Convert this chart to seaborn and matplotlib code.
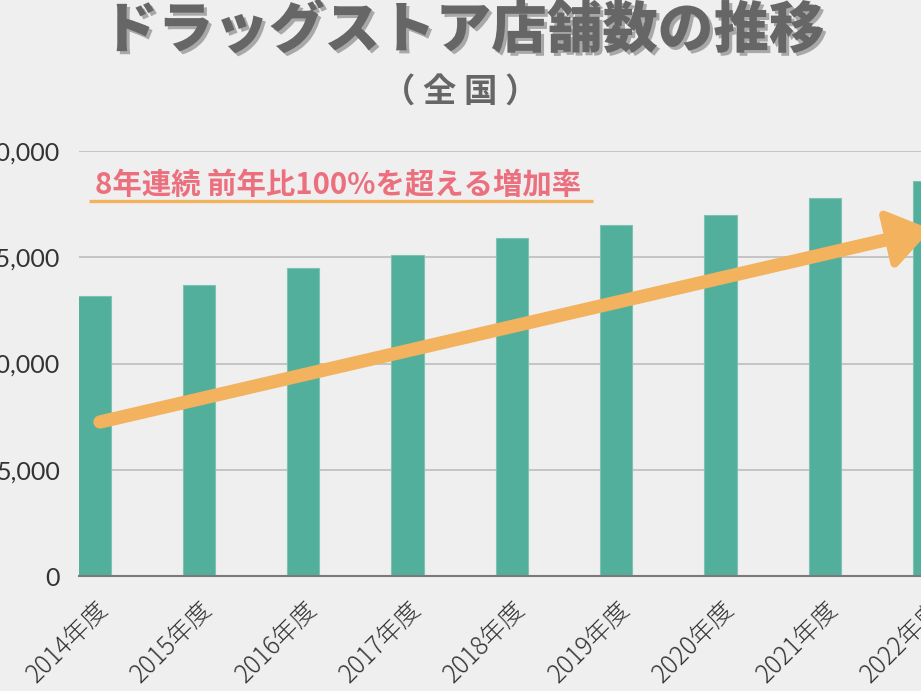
import numpy as np
import pandas as pd
import matplotlib
matplotlib.use("Agg")
import matplotlib.pyplot as plt
import matplotlib.patheffects as pe
from matplotlib.transforms import ScaledTranslation
from matplotlib.lines import Line2D
from matplotlib.patches import Polygon
import seaborn as sns

# ---- data ----
years = ["2014年度", "2015年度", "2016年度", "2017年度", "2018年度",
         "2019年度", "2020年度", "2021年度", "2022年度"]
stores = [13200, 13700, 14500, 15100, 15900, 16500, 17000, 17800, 18600]
y_ticks = [0, 5000, 10000, 15000, 20000]

title = "ドラッグストア店舗数の推移"
subtitle = "（ 全 国 ）"
note = "8年連続 前年比100%を超える増加率"

BG = "#EFEFEF"
BAR = "#52AF9C"
ORANGE = "#F2B25E"
PINK = "#EC6F7E"
GRAY = "#666666"

sns.set_style("white", {"axes.facecolor": BG, "figure.facecolor": BG})
plt.rcParams["font.family"] = ["Noto Sans CJK JP", "DejaVu Sans"]

W, H = 921, 691
fig = plt.figure(figsize=(W / 100, H / 100), dpi=100, facecolor=BG)

# axes extends beyond the right edge (chart is cropped)
ax_left, ax_bottom, ax_top = 79, 576, 151
ax_w = 104.3 * 9
ax = fig.add_axes([ax_left / W, 1 - ax_bottom / H, ax_w / W, (ax_bottom - ax_top) / H])
ax.set_facecolor(BG)

df = pd.DataFrame({"year": years, "stores": stores})
sns.barplot(data=df, x="year", y="stores", color=BAR, saturation=1,
            width=0.31, ax=ax, zorder=3, edgecolor="#7CC3B4", linewidth=0.8)

ax.set_xlim(-0.15, 8.85)
ax.set_ylim(0, 20000)
ax.set_yticks(y_ticks)
ax.set_yticklabels([f"{v:,}" for v in y_ticks], family="Lato",
                   fontsize=18, color="#333333")
ax.set_xlabel("")
ax.set_ylabel("")
ax.yaxis.grid(True, color="#BDBDBD", linewidth=1.2, zorder=0)
ax.xaxis.grid(False)
for s in ["top", "right", "left"]:
    ax.spines[s].set_visible(False)
ax.spines["bottom"].set_color("#7A7A7A")
ax.spines["bottom"].set_linewidth(1.5)
ax.spines["bottom"].set_zorder(4)
ax.tick_params(axis="y", length=0, pad=13.5)
ax.tick_params(axis="x", length=0, pad=21)

for lbl in ax.get_xticklabels():
    lbl.set_rotation(45)
    lbl.set_ha("right")
    lbl.set_va("center")
    lbl.set_rotation_mode("anchor")
    lbl.set_fontsize(18)
    lbl.set_color("#333333")
    lbl.set_fontweight("light")
    lbl.set_transform(lbl.get_transform() + ScaledTranslation(0.10, 0, fig.dpi_scale_trans))

# ---- title & subtitle ----
fig.text(463 / W, 1 - 31 / H, title, ha="center", va="center", fontsize=40,
         fontweight="heavy", color=GRAY,
         path_effects=[pe.withSimplePatchShadow(offset=(2.2, -2.2),
                                                shadow_rgbFace="#A8A8A8", alpha=1)])
fig.text(460 / W, 1 - 93 / H, subtitle, ha="center", va="center", fontsize=24,
         fontweight="bold", color=GRAY)

# ---- note with underline ----
fig.text(95 / W, 1 - 185 / H, note, ha="left", va="center", fontsize=21.2,
         fontweight="bold", color=PINK)
fig.add_artist(Line2D([89 / W, 593 / W], [1 - 201 / H, 1 - 201 / H],
                      transform=fig.transFigure, color=ORANGE, linewidth=2.4,
                      solid_capstyle="butt"))

# ---- trend arrow (decoration, pixel geometry) ----
S = np.array([100.0, 422.0])
T = np.array([924.0, 231.0])
u = (T - S) / np.linalg.norm(T - S)
n = np.array([-u[1], u[0]])
B = T - 36 * u
head = np.array([T, B + 25 * n, B - 25 * n])

def tofig(p):
    p = np.atleast_2d(p)
    return np.column_stack([p[:, 0] / W, 1 - p[:, 1] / H])

shaft = tofig(np.array([S, B + 2 * u]))
fig.add_artist(Line2D(shaft[:, 0], shaft[:, 1], transform=fig.transFigure,
                      color=ORANGE, linewidth=9.6, solid_capstyle="round", zorder=10))
fig.add_artist(Polygon(tofig(head), closed=True, transform=fig.transFigure,
                       facecolor=ORANGE, edgecolor=ORANGE, linewidth=6,
                       joinstyle="round", zorder=10))

fig.savefig("out.png", dpi=100, facecolor=BG)
